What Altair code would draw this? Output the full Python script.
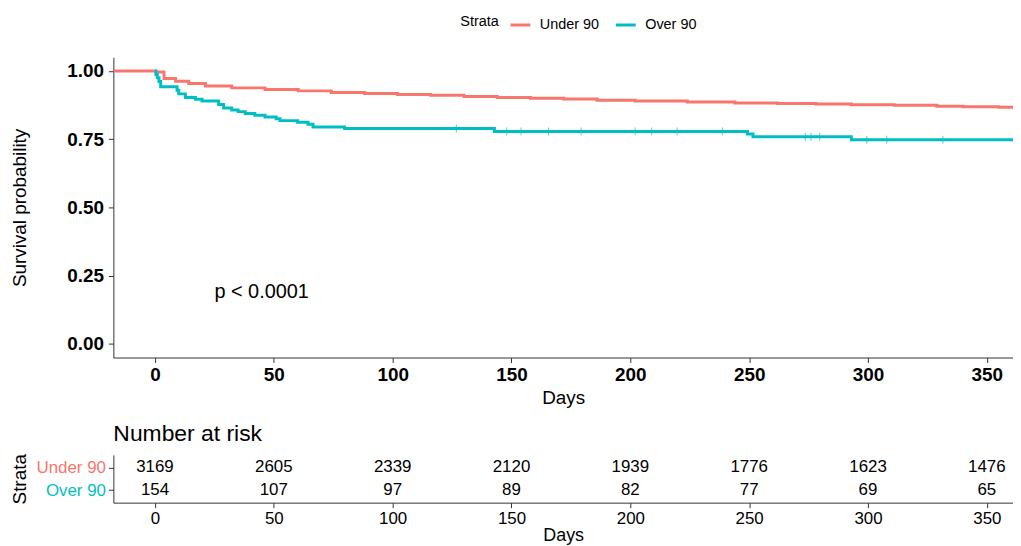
import altair as alt
import pandas as pd

FONT = "Liberation Sans"
strata = ["Under 90", "Over 90"]
colors = ["#F8766D", "#00BFC4"]

# Kaplan-Meier curves
under_days = [-17.5, 0, 0.3, 3.8, 8.7, 14.2, 21.2, 32.3, 46.3, 60.3, 74.2, 88.2, 102, 116,
              130, 144, 158, 172, 186, 202, 224, 244, 262, 278, 293, 311, 329, 340, 355, 362]
under_surv = [1.0, 1.0, 0.996, 0.972, 0.962, 0.954, 0.945, 0.938, 0.932, 0.927, 0.921,
              0.917, 0.914, 0.911, 0.906, 0.903, 0.900, 0.897, 0.893, 0.890, 0.886, 0.883,
              0.881, 0.879, 0.876, 0.874, 0.871, 0.869, 0.867, 0.867]

over_days = [0, 0.4, 1.0, 1.7, 2.4, 9.3, 10, 12.8, 17, 19.8, 26.8, 28.9, 32.3, 35, 38,
             42, 46.3, 51, 52.6, 60, 64.4, 66.5, 79.8, 142.8, 249.3, 251.6, 293, 362]
over_surv = [1.0, 0.987, 0.975, 0.961, 0.942, 0.929, 0.916, 0.903, 0.896, 0.890, 0.877,
             0.864, 0.857, 0.851, 0.844, 0.838, 0.831, 0.825, 0.818, 0.812, 0.805,
             0.795, 0.789, 0.778, 0.769, 0.759, 0.748, 0.748]

# censor marks on the Over 90 curve
over_cens_days = [126.8, 148, 154, 165.6, 179.3, 202, 209, 219.7, 238.7, 273.6, 276,
                  279.7, 299.5, 307.9, 331.5]
over_cens_surv = [0.789, 0.778, 0.778, 0.778, 0.778, 0.778, 0.778, 0.778, 0.778, 0.759,
                  0.759, 0.759, 0.748, 0.748, 0.748]

# number at risk table
risk_days = [0, 50, 100, 150, 200, 250, 300, 350]
under_risk = [3169, 2605, 2339, 2120, 1939, 1776, 1623, 1476]
over_risk = [154, 107, 97, 89, 82, 77, 69, 65]

pval_label = "p < 0.0001"
pval_day = 25
pval_surv = 0.19

x_ticks = [0, 50, 100, 150, 200, 250, 300, 350]
y_ticks = [0, 0.25, 0.5, 0.75, 1.0]

curves = pd.concat([
    pd.DataFrame({"day": under_days, "surv": under_surv, "strata": strata[0]}),
    pd.DataFrame({"day": over_days, "surv": over_surv, "strata": strata[1]}),
])
cens = pd.DataFrame({"day": over_cens_days, "surv": over_cens_surv, "strata": strata[1]})
risk = pd.concat([
    pd.DataFrame({"day": risk_days, "n": under_risk, "strata": strata[0]}),
    pd.DataFrame({"day": risk_days, "n": over_risk, "strata": strata[1]}),
])
pval = pd.DataFrame({"day": [pval_day], "surv": [pval_surv], "label": [pval_label]})

W = 905
H = 302
H2 = 48
x_dom = [-17.5, 361]
AX = "#333333"

x_scale = alt.Scale(domain=x_dom, nice=False, zero=False)
y_scale = alt.Scale(domain=[-0.05, 1.05], nice=False, zero=False)

x_axis = alt.Axis(values=x_ticks, title="Days", grid=False, labelFont=FONT, labelFontSize=19,
                  labelFontWeight="bold", labelColor="black", tickSize=5, tickColor=AX,
                  domainColor=AX, labelPadding=3, titleFont=FONT, titleFontSize=19,
                  titleFontWeight="normal", titleColor="black", titlePadding=4, labelFlush=False)
y_axis = alt.Axis(values=y_ticks, format=".2f", title="Survival probability", grid=False,
                  labelFont=FONT, labelFontSize=19, labelFontWeight="bold", labelColor="black",
                  tickSize=5, tickColor=AX, domainColor=AX, labelPadding=5, titleFont=FONT,
                  titleFontSize=19, titleFontWeight="normal", titleColor="black",
                  titleX=-94, titleY=H / 2, titleAngle=270, titleBaseline="middle",
                  titleAlign="center")

color = alt.Color("strata:N", scale=alt.Scale(domain=strata, range=colors),
                  legend=alt.Legend(title="Strata", orient="none", legendX=349, legendY=-44,
                                    direction="horizontal", titleOrient="left",
                                    symbolType="stroke", symbolStrokeWidth=3, symbolSize=400,
                                    labelFont=FONT, labelFontSize=14.5, titleFont=FONT,
                                    titleFontSize=14.5, titleFontWeight="normal",
                                    labelColor="black", titleColor="black",
                                    columnPadding=10, labelOffset=8, titlePadding=10,
                                    padding=0))

lines = alt.Chart(curves).mark_line(interpolate="step-after", strokeWidth=3, clip=True).encode(
    x=alt.X("day:Q", scale=x_scale, axis=x_axis),
    y=alt.Y("surv:Q", scale=y_scale, axis=y_axis),
    color=color,
)
ticks = alt.Chart(cens).mark_tick(orient="vertical", thickness=1, size=8, opacity=0.7).encode(
    x="day:Q", y="surv:Q",
    color=alt.Color("strata:N", scale=alt.Scale(domain=strata, range=colors), legend=None),
)
ptext = alt.Chart(pval).mark_text(align="left", baseline="middle", fontSize=20, font=FONT,
                                  color="black").encode(x="day:Q", y="surv:Q", text="label:N")

main = alt.layer(lines, ticks, ptext).properties(width=W, height=H)

label_color = {"expr": "datum.value === 'Under 90' ? '#F8766D' : '#00BFC4'"}
risk_chart = alt.Chart(risk).mark_text(fontSize=17, font=FONT, color="black").encode(
    x=alt.X("day:Q", scale=alt.Scale(domain=x_dom, nice=False, zero=False),
            axis=alt.Axis(values=x_ticks, title="Days", grid=False, labelFont=FONT,
                          labelFontSize=17, labelFontWeight="normal", labelColor="black",
                          tickSize=5, tickColor=AX, domainColor=AX, labelPadding=3,
                          titleFont=FONT, titleFontSize=18, titleFontWeight="normal",
                          titleColor="black", titlePadding=0, labelFlush=False)),
    y=alt.Y("strata:N", sort=strata, scale=alt.Scale(domain=strata, padding=0.55),
            axis=alt.Axis(title="Strata", grid=False, labelFont=FONT, labelFontSize=17,
                          labelColor=label_color, tickSize=5, tickColor=AX, domainColor=AX,
                          labelPadding=3, titleFont=FONT, titleFontSize=19,
                          titleFontWeight="normal", titleColor="black", titleX=-94,
                          titleY=H2 / 2, titleAngle=270, titleBaseline="middle",
                          titleAlign="center")),
    text="n:Q",
).properties(width=W, height=H2,
             title=alt.TitleParams("Number at risk", anchor="start", frame="group",
                                   fontSize=23, fontWeight="normal", font=FONT,
                                   color="black", offset=8))

chart = alt.vconcat(main, risk_chart, spacing=15).resolve_scale(
    color="independent").resolve_legend(color="independent").properties(
    padding={"left": 3, "top": 4, "right": 0, "bottom": 0}
).configure_view(strokeWidth=0)

chart.save("out.html", embed_options={"renderer": "svg", "actions": False})
